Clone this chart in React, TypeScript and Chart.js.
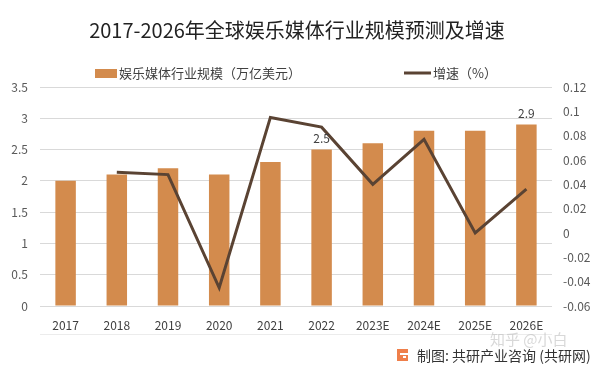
import React, { useEffect, useRef } from "react";
import { Chart, registerables } from "chart.js";

Chart.register(...registerables);

const categories = ["2017", "2018", "2019", "2020", "2021", "2022", "2023E", "2024E", "2025E", "2026E"];
const scaleValues = [2.0, 2.1, 2.2, 2.1, 2.3, 2.5, 2.6, 2.8, 2.8, 2.9];
const growthValues: (number | null)[] = [null, 0.05, 0.048, -0.045, 0.095, 0.087, 0.04, 0.077, 0.0, 0.036];
const labeledIndices = [5, 9];
const leftTicks = [0, 0.5, 1, 1.5, 2, 2.5, 3, 3.5];
const rightTicks = [-0.06, -0.04, -0.02, 0, 0.02, 0.04, 0.06, 0.08, 0.1, 0.12];

const TITLE = "2017-2026年全球娱乐媒体行业规模预测及增速";
const BAR_LABEL = "娱乐媒体行业规模（万亿美元）";
const LINE_LABEL = "增速（%）";
const SOURCE = "制图: 共研产业咨询 (共研网)";
const WATERMARK = "知乎 @小白";

const BAR_COLOR = "#D38B4D";
const LINE_COLOR = "#5A4333";
const FONT = "'Noto Sans CJK SC', 'Noto Sans', sans-serif";

const fmt = (v: number) => String(Number(v.toFixed(2)));

const decorPlugin = {
  id: "decor",
  afterDraw(chart: any) {
    const ctx = chart.ctx as CanvasRenderingContext2D;
    ctx.save();
    // title
    ctx.fillStyle = "#222222";
    ctx.font = `20px ${FONT}`;
    ctx.textAlign = "center";
    ctx.textBaseline = "middle";
    ctx.fillText(TITLE, 297, 30);

    // legend
    ctx.font = `13px ${FONT}`;
    ctx.textAlign = "left";
    ctx.fillStyle = BAR_COLOR;
    ctx.fillRect(95, 69, 22, 9);
    ctx.fillStyle = "#404040";
    ctx.fillText(BAR_LABEL, 119, 73);
    ctx.strokeStyle = LINE_COLOR;
    ctx.lineWidth = 3;
    ctx.beginPath();
    ctx.moveTo(404, 73);
    ctx.lineTo(431, 73);
    ctx.stroke();
    ctx.fillText(LINE_LABEL, 433, 73);

    // divider
    ctx.strokeStyle = "#ececec";
    ctx.lineWidth = 1;
    ctx.beginPath();
    ctx.moveTo(40, 334.5);
    ctx.lineTo(552, 334.5);
    ctx.stroke();

    // watermark
    ctx.fillStyle = "rgba(190,190,190,0.6)";
    ctx.font = `15px ${FONT}`;
    ctx.fillText(WATERMARK, 490, 339);

    // logo
    ctx.fillStyle = "#EF7F4A";
    ctx.fillRect(397, 349, 11, 12);
    ctx.fillStyle = "#ffffff";
    ctx.fillRect(400, 353, 8, 2);
    ctx.fillRect(403, 356, 3, 2);

    // source
    ctx.fillStyle = "#333333";
    ctx.font = `14px ${FONT}`;
    ctx.fillText(SOURCE, 417, 356);

    // data labels
    const meta = chart.getDatasetMeta(0);
    ctx.fillStyle = "#404040";
    ctx.font = `12px ${FONT}`;
    ctx.textAlign = "center";
    ctx.textBaseline = "bottom";
    labeledIndices.forEach((i) => {
      const el = meta.data[i];
      if (el) ctx.fillText(fmt(scaleValues[i]), el.x, el.y - 5);
    });
    ctx.restore();
  },
};

export default function App() {
  const ref = useRef<HTMLCanvasElement>(null);
  useEffect(() => {
    if (!ref.current) return;
    const chart = new Chart(ref.current, {
      type: "bar",
      data: {
        labels: categories,
        datasets: [
          {
            type: "bar",
            label: BAR_LABEL,
            data: scaleValues,
            backgroundColor: BAR_COLOR,
            yAxisID: "y",
            barPercentage: 0.8,
            categoryPercentage: 0.5,
            order: 2,
          },
          {
            type: "line",
            label: LINE_LABEL,
            data: growthValues,
            borderColor: LINE_COLOR,
            borderWidth: 3,
            pointRadius: 0,
            tension: 0,
            yAxisID: "y1",
            order: 1,
          } as any,
        ],
      },
      plugins: [decorPlugin],
      options: {
        animation: false,
        responsive: false,
        maintainAspectRatio: false,
        layout: { padding: { top: 87, bottom: 37, left: 0, right: 0 } },
        plugins: { legend: { display: false }, title: { display: false }, tooltip: { enabled: false } },
        scales: {
          x: {
            grid: { display: false },
            border: { display: false },
            ticks: { color: "#404040", font: { size: 12, family: FONT }, padding: 4, maxRotation: 0 },
            afterFit: (s: any) => { s.height = 30; },
          },
          y: {
            position: "left",
            min: 0,
            max: 3.5,
            afterBuildTicks: (s: any) => { s.ticks = leftTicks.map((v) => ({ value: v })); },
            grid: { color: "#d9d9d9", drawTicks: false },
            border: { display: false },
            ticks: { color: "#595959", font: { size: 12, family: FONT }, padding: 12, callback: (v: any) => fmt(Number(v)) },
            afterFit: (s: any) => { s.width = 40; },
          },
          y1: {
            position: "right",
            min: -0.06,
            max: 0.12,
            afterBuildTicks: (s: any) => { s.ticks = rightTicks.map((v) => ({ value: v })); },
            grid: { display: false, drawTicks: false },
            border: { display: false },
            ticks: { color: "#595959", font: { size: 12, family: FONT }, padding: 11, callback: (v: any) => fmt(Number(v)) },
            afterFit: (s: any) => { s.width = 49; },
          },
        },
      },
    });
    return () => chart.destroy();
  }, []);
  return (
    <div style={{ position: "fixed", left: 0, top: 0, width: 601, height: 373, background: "#fff" }}>
      <canvas ref={ref} width={601} height={373} style={{ width: 601, height: 373 }} />
    </div>
  );
}
